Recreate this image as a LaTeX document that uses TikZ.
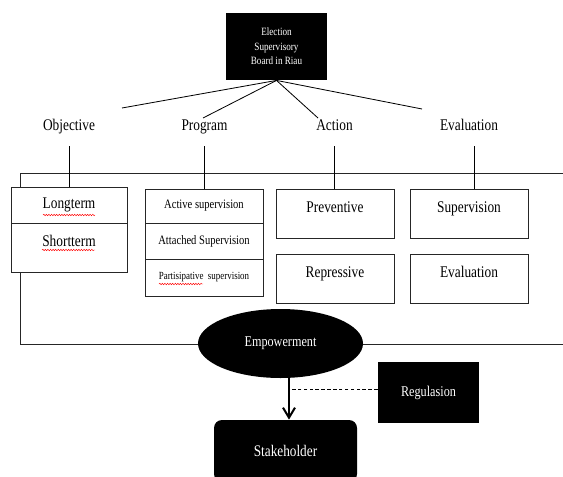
\documentclass[tikz,border=0pt]{standalone}
\usepackage{fontspec}
\setmainfont{Liberation Serif}[FakeStretch=0.82]
\usetikzlibrary{positioning,shapes.geometric,arrows.meta,decorations.pathmorphing}

\begin{document}
\begin{tikzpicture}[x=0.03cm,y=-0.03cm,line width=0.7pt,
	headlabel/.style={inner xsep=0pt, inner ysep=0.36cm, text height=9pt, text depth=3pt, font=\fontsize{13.9}{15}\selectfont},
	plainbox/.style={draw=black!85, fill=white, inner sep=0pt, minimum width=3.54cm, font=\fontsize{13.9}{15}\selectfont},
	tallbox/.style={plainbox, text height=0.71cm, text depth=0.76cm},
	progbox/.style={plainbox, font=\fontsize{11}{12}\selectfont},
	blackbox/.style={fill=black, text=white, inner sep=0pt},
	arr/.style={line width=1.7pt, -{Straight Barb[length=3mm,width=3.6mm]}},
	dashline/.style={densely dashed, line width=0.6pt},
	spell/.style={red, line width=0.4pt, decorate, decoration={snake, amplitude=0.6pt, segment length=2.2pt}}]
	\useasboundingbox (0,0) rectangle (563,476);
	\clip (0,0) rectangle (563,476);
	\draw[draw=black!85] (20,173) rectangle (600,344); % frame, cut on the right

	\node[blackbox, align=center, minimum width=3.03cm, minimum height=2.01cm, font=\fontsize{9.5}{12.4}\selectfont] (board) at (276.5,46.5) {Election\\Supervisory\\Board in Riau};

	\node[headlabel] (obj) at (69,127) {Objective};
	\node[headlabel] (prg) at (204.5,127) {Program};
	\node[headlabel] (act) at (334.5,127) {Action};
	\node[headlabel] (evl) at (469,127) {Evaluation};

	\coordinate (objend) at (122,108);
	\coordinate (prgend) at (203,118);
	\coordinate (actend) at (318,118);
	\coordinate (evlend) at (422,109);
	\draw (board.south) -- (objend);
	\draw (board.south) -- (prgend);
	\draw (board.south) -- (actend);
	\draw (board.south) -- (evlend);

	% objective
	\node[plainbox, minimum width=3.48cm, minimum height=1.08cm] (long) at (69,205) {Longterm};
	\node[tallbox, minimum width=3.48cm] (short) at (69,247.5) {Shortterm};
	% program
	\node[progbox, minimum height=1.02cm] (prog1) at (204,206) {Active supervision};
	\node[progbox, minimum height=1.08cm] (prog2) at (204,241) {Attached Supervision};
	\node[progbox, minimum height=1.11cm, font=\fontsize{9.3}{10}\selectfont] (prog3) at (204,277.5) {Partisipative\ \ supervision};
	% action
	\node[tallbox] (prev) at (335,213.5) {Preventive};
	\node[tallbox] (rep) at (335,278.5) {Repressive};
	% evaluation
	\node[tallbox] (sup) at (469,213.5) {Supervision};
	\node[tallbox] (evn) at (469,278.5) {Evaluation};

	\draw (obj.south) -- (obj.south |- long.north);
	\draw (prg.south) -- (prg.south |- prog1.north);
	\draw (act.south) -- (act.south |- prev.north);
	\draw ([xshift=0.15cm]evl.south) -- ([xshift=0.15cm]evl.south |- sup.north);

	% spelling marks
	\draw[spell] (43,215) -- (95,215);
	\draw[spell] (42,250) -- (95,250);
	\draw[spell] (159,284) -- (203,284);

	\node[ellipse, fill=black, text=white, inner sep=0pt, minimum width=4.95cm, minimum height=2.07cm, font=\fontsize{12.7}{14}\selectfont] (emp) at (280.5,343.5) {Empowerment};
	\node[blackbox, rounded corners=0.24cm, minimum width=4.29cm, minimum height=1.86cm, font=\fontsize{13.8}{15}\selectfont] (stake) at (285.5,451) {Stakeholder};
	\node[blackbox, minimum width=3.03cm, minimum height=1.83cm, font=\fontsize{12.7}{14}\selectfont] (reg) at (428.5,392.5) {Regulasion};

	\coordinate (drop) at ([xshift=0.105cm]stake.north);
	\coordinate (tap) at ([yshift=0.105cm]reg.west);
	\draw[arr] (drop |- emp.south) -- (drop);
	\draw[dashline] (tap) -- (tap -| drop);
\end{tikzpicture}
\end{document}
